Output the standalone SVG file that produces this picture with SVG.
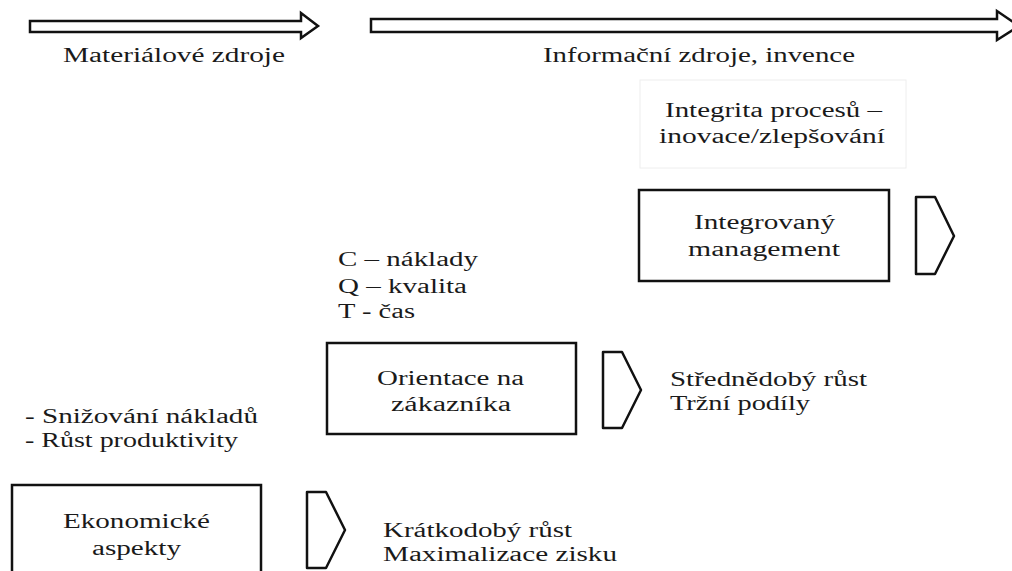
<svg xmlns="http://www.w3.org/2000/svg" width="1012" height="571" viewBox="0 0 1012 571" font-family="'Liberation Serif', 'Times New Roman', serif">
<style>
.t{font-family:'Liberation Serif', 'Times New Roman', serif;font-size:20px;fill:#1a1a1a}
.box{fill:#fff;stroke:#111;stroke-width:2.5}
.chev{fill:#fff;stroke:#111;stroke-width:2.5;stroke-linejoin:round}
.arr{fill:#fff;stroke:#111;stroke-width:2.5}
.faint{fill:none;stroke:#eeeeee;stroke-width:1}
</style>
<rect width="1012" height="571" fill="#fff"/>
<g id="connectors">
<path class="arr" d="M30,21 H301 V13 L318,26 L301,38 V32 H30 Z"/>
<path class="arr" d="M371,19 H997 V11 L1019,26 L997,40 V32 H371 Z"/>
<path class="chev" d="M916,197 H935 L954,236 L935,274 H916 Z"/>
<path class="chev" d="M603,352 H622 L641,390 L622,428 H603 Z"/>
<path class="chev" d="M307,492 H326 L345,530 L326,568 H307 Z"/>
</g>
<g id="label-material"><text class="t" x="63" y="62" textLength="222" lengthAdjust="spacingAndGlyphs">Materiálové zdroje</text></g>
<g id="label-info"><text class="t" x="543" y="62" textLength="312" lengthAdjust="spacingAndGlyphs">Informační zdroje, invence</text></g>
<g id="note-integrita">
<rect class="faint" x="640" y="80" width="266" height="88"/>
<text class="t" x="665" y="117" textLength="217" lengthAdjust="spacingAndGlyphs">Integrita procesů –</text>
<text class="t" x="659" y="143" textLength="226" lengthAdjust="spacingAndGlyphs">inovace/zlepšování</text>
</g>
<g id="node-integrovany">
<rect class="box" x="639" y="190" width="250" height="91"/>
<text class="t" x="694" y="229" textLength="141" lengthAdjust="spacingAndGlyphs">Integrovaný</text>
<text class="t" x="688" y="256" textLength="152" lengthAdjust="spacingAndGlyphs">management</text>
</g>
<g id="note-cqt">
<text class="t" x="338" y="266" textLength="140" lengthAdjust="spacingAndGlyphs">C – náklady</text>
<text class="t" x="338" y="293" textLength="129" lengthAdjust="spacingAndGlyphs">Q – kvalita</text>
<text class="t" x="338" y="318" textLength="77" lengthAdjust="spacingAndGlyphs">T - čas</text>
</g>
<g id="node-orientace">
<rect class="box" x="327" y="343" width="249" height="91"/>
<text class="t" x="377" y="385" textLength="147" lengthAdjust="spacingAndGlyphs">Orientace na</text>
<text class="t" x="391" y="411" textLength="120" lengthAdjust="spacingAndGlyphs">zákazníka</text>
</g>
<g id="note-stredne">
<text class="t" x="670" y="386" textLength="197" lengthAdjust="spacingAndGlyphs">Střednědobý růst</text>
<text class="t" x="670" y="410" textLength="140" lengthAdjust="spacingAndGlyphs">Tržní podíly</text>
</g>
<g id="note-snizovani">
<text class="t" x="25" y="423" textLength="233" lengthAdjust="spacingAndGlyphs">- Snižování nákladů</text>
<text class="t" x="25" y="447" textLength="213" lengthAdjust="spacingAndGlyphs">- Růst produktivity</text>
</g>
<g id="node-ekonomicke">
<rect class="box" x="12" y="485" width="249" height="100"/>
<text class="t" x="63" y="528" textLength="147" lengthAdjust="spacingAndGlyphs">Ekonomické</text>
<text class="t" x="92" y="555" textLength="89" lengthAdjust="spacingAndGlyphs">aspekty</text>
</g>
<g id="note-kratko">
<text class="t" x="383" y="537" textLength="189" lengthAdjust="spacingAndGlyphs">Krátkodobý růst</text>
<text class="t" x="383" y="561" textLength="234" lengthAdjust="spacingAndGlyphs">Maximalizace zisku</text>
</g>
</svg>
